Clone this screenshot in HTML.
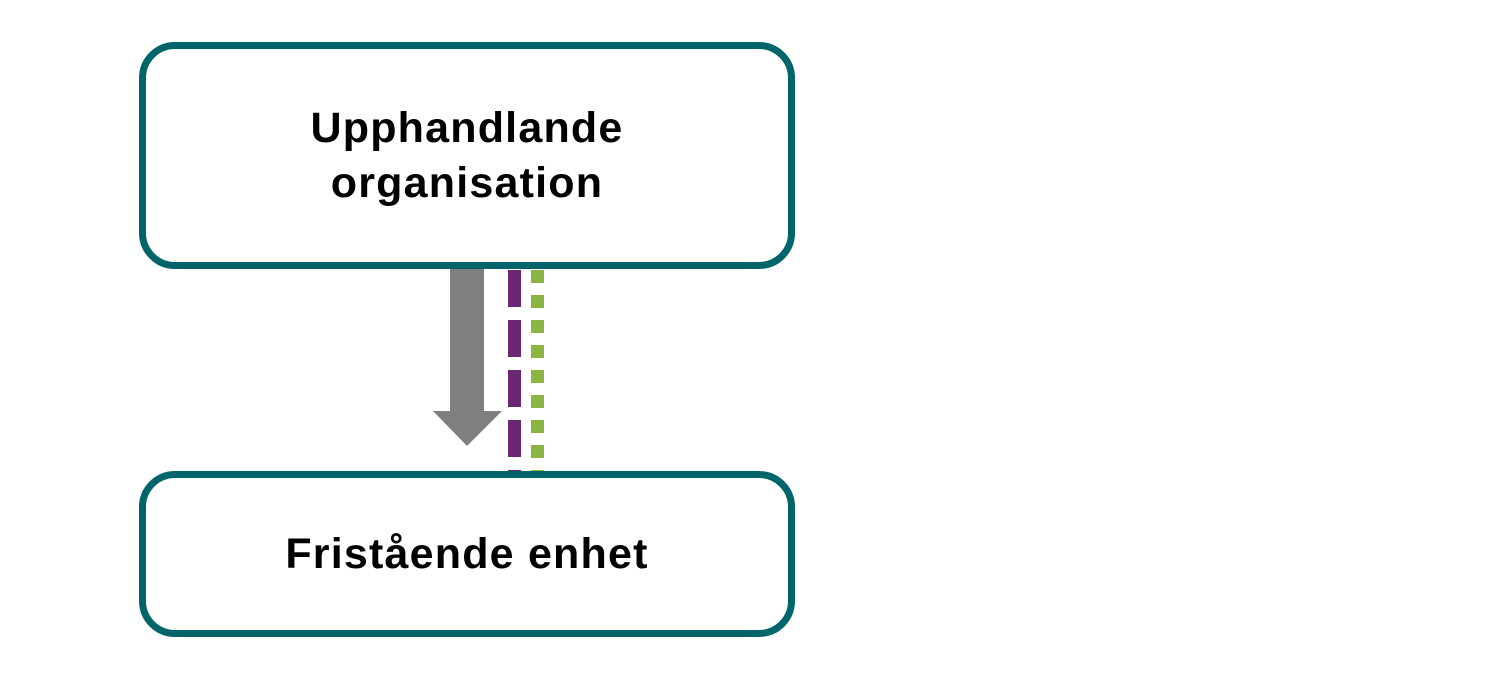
<!DOCTYPE html>
<html><head><style>
body{margin:0;width:1500px;height:690px;background:#fff;position:relative;overflow:hidden;font-family:"Liberation Sans",sans-serif}
.box{position:absolute;left:139px;width:642px;border:7px solid #00646B;border-radius:36px;background:#fff;display:flex;align-items:center;justify-content:center;text-align:center;font-weight:bold;font-size:43px;letter-spacing:1.2px;line-height:55px;color:#000}
</style></head><body>
<svg width="1500" height="690" style="position:absolute;left:0;top:0">
<polygon points="450,268 484,268 484,411 502,411 467,446 433,411 450,411" fill="#7f7f7f"/>
<line x1="514.5" y1="270" x2="514.5" y2="478" stroke="#6A2873" stroke-width="13" stroke-dasharray="37 13"/>
<line x1="537.5" y1="270" x2="537.5" y2="478" stroke="#8DB544" stroke-width="13" stroke-dasharray="13 12"/>
</svg>
<div class="box" style="top:42px;height:213px">Upphandlande<br>organisation</div>
<div class="box" style="top:471px;height:152px">Fristående enhet</div>
</body></html>
